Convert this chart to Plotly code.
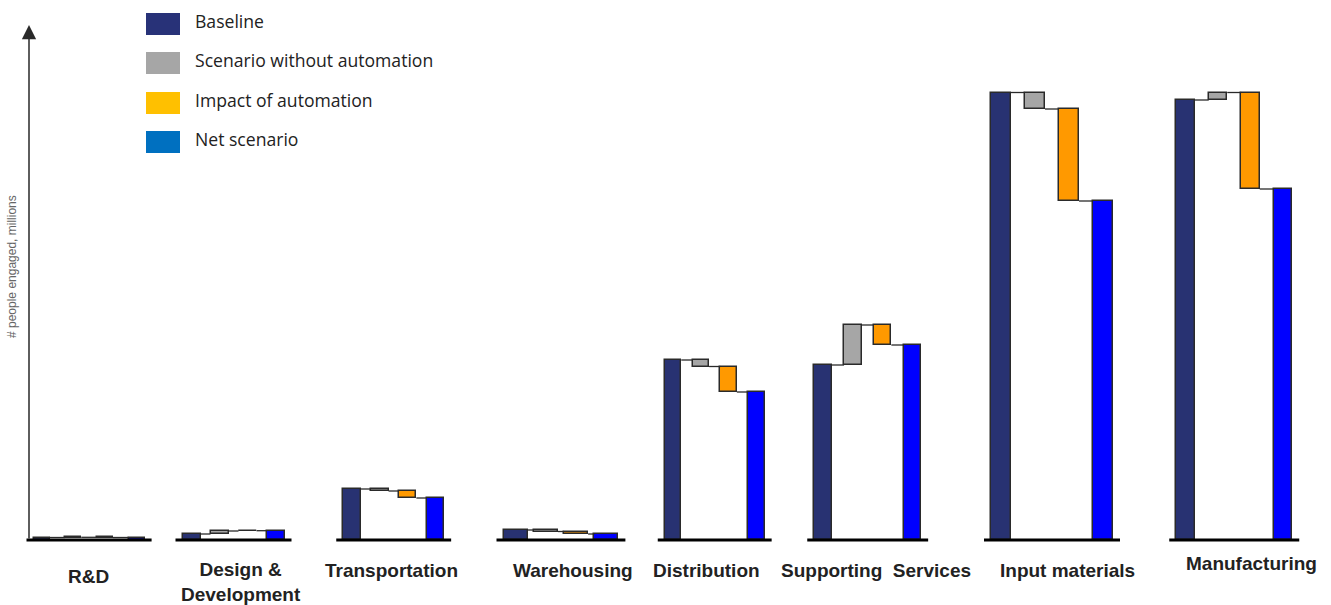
import plotly.graph_objects as go

# ---- data (millions of people engaged) ----
categories = ["R&D", "Design &<br>Development", "Transportation", "Warehousing",
              "Distribution", "Supporting\u00a0\u00a0Services", "Input materials", "Manufacturing"]
baseline = [0.025, 0.06, 0.51, 0.10, 1.80, 1.75, 4.475, 4.40]
scenario_change = [0.002, 0.03, -0.02, -0.015, -0.065, 0.40, -0.165, 0.075]
automation_impact = [-0.002, 0.003, -0.07, -0.025, -0.255, -0.20, -0.92, -0.965]
series_names = ["Baseline", "Scenario without automation", "Impact of automation", "Net scenario"]

# ---- layout: page is 1331 x 605, axes mapped 1:1 to pixels horizontally ----
W, H = 1331, 605
ZERO_PX = 540          # pixel row of the value 0
PX_PER_UNIT = 100      # pixels per million
group_x0 = [41.5, 191.5, 352, 515.5, 673, 823, 1001, 1185.5]
group_step = [31.7, 28, 27.8, 30.3, 27.8, 29.8, 34, 32.5]
bar_width = [16, 18, 17.5, 24, 16.5, 17.5, 20, 18.5]
label_x = [88, 241, 391, 573, 706, 876, 1067, 1251]
label_y_px = [576, 582, 570, 570, 570, 570, 570, 563]

bar_colors = ["#283272", "#a6a6a6", "#ff9900", "#0000ff"]
legend_colors = ["#283278", "#a6a6a6", "#ffc000", "#0070c0"]
outline = "#2a2a2a"


def ypx(py):
    return (ZERO_PX - py) / PX_PER_UNIT


level_after_scen = [b + s for b, s in zip(baseline, scenario_change)]
net = [l + a for l, a in zip(level_after_scen, automation_impact)]

slot_x = [[x0 + k * st for x0, st in zip(group_x0, group_step)] for k in range(4)]
bases = [[0] * len(baseline), baseline, level_after_scen, [0] * len(baseline)]
heights = [baseline, scenario_change, automation_impact, net]

fig = go.Figure()
for k in range(4):
    fig.add_trace(go.Bar(
        x=slot_x[k], y=heights[k], base=bases[k], width=bar_width,
        name=series_names[k], showlegend=False, hoverinfo="skip",
        marker=dict(color=bar_colors[k], line=dict(color=outline, width=1.5)),
    ))

# connector lines between consecutive bars of each group
cx, cy = [], []
levels = [baseline, level_after_scen, net]
for g in range(len(baseline)):
    w = bar_width[g] / 2
    for k in range(3):
        cx += [slot_x[k][g] + w, slot_x[k + 1][g] - w, None]
        cy += [levels[k][g], levels[k][g], None]
fig.add_trace(go.Scatter(x=cx, y=cy, mode="lines", line=dict(color=outline, width=1.3),
                         showlegend=False, hoverinfo="skip"))

# thick base line under each group
ax_x, ax_y = [], []
for g in range(len(baseline)):
    pad = bar_width[g] / 2 + 7
    ax_x += [slot_x[0][g] - pad, slot_x[3][g] + pad, None]
    ax_y += [0, 0, None]
fig.add_trace(go.Scatter(x=ax_x, y=ax_y, mode="lines", line=dict(color="#000000", width=3),
                         showlegend=False, hoverinfo="skip"))

annotations = []
# vertical value axis drawn as an arrow
annotations.append(dict(x=29, y=ypx(25), ax=29, ay=0, xref="x", yref="y", axref="x", ayref="y",
                        showarrow=True, arrowhead=2, arrowsize=1.9, arrowwidth=1.5,
                        arrowcolor="#2a2a2a", text=""))
annotations.append(dict(x=12, y=ypx(267), xref="x", yref="y", text="# people engaged, millions",
                        textangle=-90, showarrow=False,
                        font=dict(family="Liberation Sans, Arial", size=12, color="#666666")))

for g, name in enumerate(categories):
    annotations.append(dict(x=label_x[g], y=ypx(label_y_px[g]), xref="x", yref="y",
                            text="<b>" + name.replace("<br>", "</b><br><b>") + "</b>",
                            showarrow=False, xanchor="center", yanchor="middle",
                            font=dict(family="Liberation Sans, Arial", size=19, color="#222222")))

# legend drawn as swatches with text
shapes = []
legend_rows = [24, 63, 103, 142]
for k, row in enumerate(legend_rows):
    shapes.append(dict(type="rect", xref="x", yref="y", x0=146, x1=180,
                       y0=ypx(row - 11), y1=ypx(row + 11),
                       fillcolor=legend_colors[k], line=dict(width=0)))
    annotations.append(dict(x=193, y=ypx(row - 3), xref="x", yref="y", text=series_names[k],
                            showarrow=False, xanchor="left", yanchor="middle",
                            font=dict(family="Open Sans, Liberation Sans", size=17.6, color="#222222")))

fig.update_layout(
    width=W, height=H,
    margin=dict(l=0, r=0, t=0, b=0),
    paper_bgcolor="white", plot_bgcolor="white",
    barmode="overlay", bargap=0,
    xaxis=dict(range=[0, W], visible=False, fixedrange=True),
    yaxis=dict(range=[ypx(H), ypx(0)], visible=False, fixedrange=True),
    annotations=annotations, shapes=shapes,
    showlegend=False,
)

fig.write_html("out.html", config={"displayModeBar": False})
